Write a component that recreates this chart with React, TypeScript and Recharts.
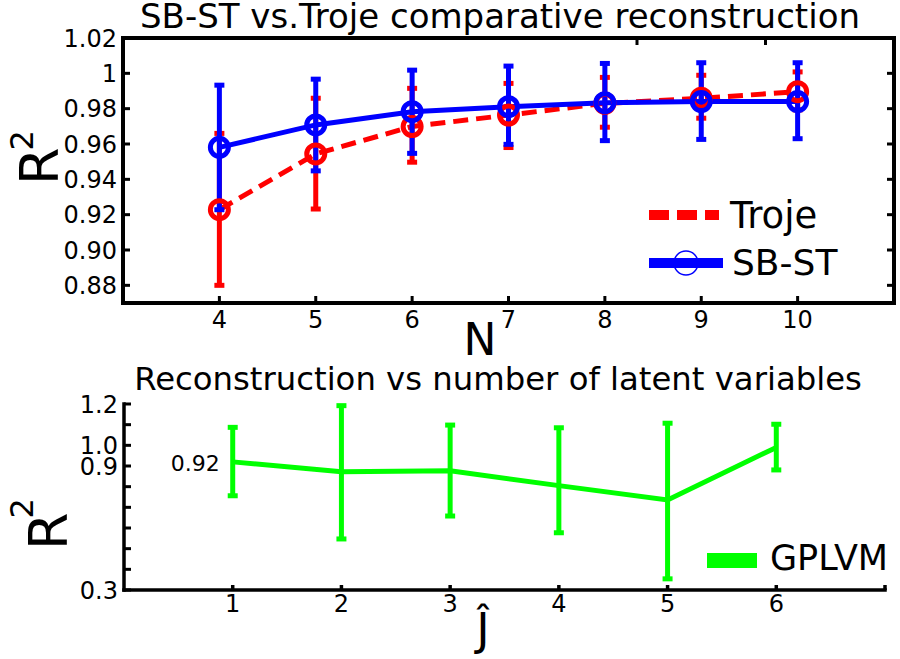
import React from 'react';
import { LineChart, Line, XAxis, YAxis, ErrorBar, Legend, LabelList } from 'recharts';

const FONT = '"DejaVu Sans", sans-serif';

// upper panel: R^2 against N for the two methods
const nValues = [4, 5, 6, 7, 8, 9, 10];
const trojeR2 = [0.9228, 0.9544, 0.9699, 0.9764, 0.983, 0.9859, 0.9896];
const trojeLow = [0.88, 0.9232, 0.9497, 0.958, 0.9695, 0.9746, 0.9793];
const trojeHigh = [0.966, 0.9859, 0.9915, 0.9943, 0.9977, 0.9989, 1.0008];
const sbstR2 = [0.9581, 0.9708, 0.9783, 0.9811, 0.9834, 0.984, 0.984];
const sbstLow = [0.9228, 0.9448, 0.9547, 0.9598, 0.9619, 0.9626, 0.963];
const sbstHigh = [0.9933, 0.9967, 1.0018, 1.0041, 1.0056, 1.006, 1.006];
const topYTicks = [0.88, 0.9, 0.92, 0.94, 0.96, 0.98, 1, 1.02];

// lower panel: GPLVM R^2 against number of latent variables
const jValues = [1, 2, 3, 4, 5, 6];
const gplvmR2 = [0.92, 0.872, 0.877, 0.805, 0.736, 0.99];
const gplvmLow = [0.756, 0.547, 0.658, 0.577, 0.354, 0.881];
const gplvmHigh = [1.087, 1.192, 1.098, 1.085, 1.107, 1.102];
const bottomXTicks = [1, 2, 3, 4, 5, 6, 7];
const bottomYTicks = [0.3, 0.4, 0.5, 0.6, 0.7, 0.8, 0.9, 1.0, 1.1, 1.2];
const bottomYLabels = ['1.2', '1.0', '0.9', '0.3'];

const topData = nValues.map((n, i) => ({
  n,
  troje: trojeR2[i],
  trojeErr: [trojeR2[i] - trojeLow[i], trojeHigh[i] - trojeR2[i]],
  sbst: sbstR2[i],
  sbstErr: [sbstR2[i] - sbstLow[i], sbstHigh[i] - sbstR2[i]],
}));

const bottomData = jValues.map((j, i) => ({
  j,
  gplvm: gplvmR2[i],
  gplvmErr: [gplvmR2[i] - gplvmLow[i], gplvmHigh[i] - gplvmR2[i]],
}));

const RED = '#ff0000';
const BLUE = '#0000ff';
const GREEN = '#00ff00';
const frameLine = { stroke: '#000', strokeWidth: 4, strokeLinecap: 'square' as const };

const fmtTopY = (v: number) => (v === 1 ? '1' : v.toFixed(2));
const fmtBottomY = (v: number) => (bottomYLabels.includes(v.toFixed(1)) ? v.toFixed(1) : '');
const fmtBottomX = (v: number) => (v === 7 ? '' : String(v));

// tick renderers: the label sits outside the axis, the tick mark points into the plot
const leftTick = (gap: number, len: number, fmt: (v: number) => string) => (props: any) => (
  <g>
    <line x1={props.x + gap} y1={props.y} x2={props.x + gap + len} y2={props.y} stroke="#000" strokeWidth={3} />
    <text x={props.x} y={props.y} dy="0.355em" textAnchor="end" fontSize={24} fontFamily={FONT} fill="#000">
      {fmt(props.payload.value)}
    </text>
  </g>
);

const bottomTick = (gap: number, len: number, width: number, fmt: (v: number) => string) => (props: any) => (
  <g>
    <line x1={props.x} y1={props.y - gap} x2={props.x} y2={props.y - gap - len} stroke="#000" strokeWidth={width} />
    <text x={props.x} y={props.y} dy="0.71em" textAnchor="middle" fontSize={24} fontFamily={FONT} fill="#000">
      {fmt(props.payload.value)}
    </text>
  </g>
);

const topFrameTick = (props: any) => (
  <line x1={props.x} y1={props.y} x2={props.x} y2={props.y + 7} stroke="#000" strokeWidth={3} />
);

const rightFrameTick = (props: any) => (
  <line x1={props.x} y1={props.y} x2={props.x - 7} y2={props.y} stroke="#000" strokeWidth={3} />
);

const TopLegend = () => (
  <svg width={250} height={100} style={{ display: 'block', overflow: 'visible' }}>
    <line x1={9} y1={25} x2={79} y2={25} stroke={RED} strokeWidth={10} strokeDasharray="20 8" />
    <text x={90} y={38} fontSize={37} fontFamily={FONT} fill="#000">Troje</text>
    <line x1={9} y1={73} x2={83} y2={73} stroke={BLUE} strokeWidth={10} />
    <circle cx={46} cy={73} r={12} fill="none" stroke={BLUE} strokeWidth={1.5} />
    <text x={92} y={85} fontSize={36} fontFamily={FONT} fill="#000">SB-ST</text>
  </svg>
);

const BottomLegend = () => (
  <svg width={205} height={45} style={{ display: 'block', overflow: 'visible' }}>
    <rect x={17} y={13} width={50} height={15} fill={GREEN} />
    <text x={80} y={30} fontSize={35} fontFamily={FONT} fill="#000">GPLVM</text>
  </svg>
);

const rSquared = (x: number, y: number, supShift: number, supDx: number) => () => (
  <text transform={`translate(${x},${y}) rotate(-90)`} fontSize={54} fontFamily={FONT} fill="#000">
    R
    <tspan fontSize={32} dy={supShift} dx={supDx}>2</tspan>
  </text>
);

const firstValueLabel = (props: any) => {
  if (props.index !== 0) return null;
  return (
    <text x={props.x - 13} y={props.y + 9} textAnchor="end" fontSize={22} fontFamily={FONT} fill="#000">
      {props.value}
    </text>
  );
};

export default function App() {
  return (
    <div style={{ position: 'absolute', left: 0, top: 0, width: 900, height: 659, background: '#fff' }}>
      <div style={{ position: 'absolute', left: 0, top: 340 }}>
        <LineChart width={900} height={319} data={bottomData} margin={{ top: 64, right: 15, bottom: 0, left: 0 }}>
          <XAxis
            dataKey="j"
            type="number"
            domain={[0, 7]}
            ticks={bottomXTicks}
            interval={0}
            height={69}
            allowDataOverflow
            axisLine={{ stroke: '#000', strokeWidth: 3.5, strokeLinecap: 'square' }}
            tickLine={false}
            tickSize={0}
            tickMargin={5}
            tick={bottomTick(5, 5, 3.5, fmtBottomX)}
            label={{
              content: () => (
                <text x={483} y={305} textAnchor="middle" fontSize={44} fontFamily={FONT} fill="#000">Ĵ</text>
              ),
            }}
          />
          <YAxis
            type="number"
            domain={[0.3, 1.2]}
            ticks={bottomYTicks}
            interval={0}
            width={124}
            allowDataOverflow
            axisLine={{ stroke: '#000', strokeWidth: 3.5, strokeLinecap: 'square' }}
            tickLine={false}
            tickSize={0}
            tickMargin={6}
            tick={leftTick(6, 7, fmtBottomY)}
            label={{ content: rSquared(67, 210, -34, -6) }}
          />
          <Line dataKey="gplvm" stroke={GREEN} strokeWidth={5} dot={false} isAnimationActive={false}>
            <ErrorBar dataKey="gplvmErr" width={5} strokeWidth={5} stroke={GREEN} direction="y" />
            <LabelList dataKey="gplvm" content={firstValueLabel} />
          </Line>
          <Legend layout="vertical" align="center" verticalAlign="middle" content={BottomLegend}
            wrapperStyle={{ left: 690, top: 200, width: 205, height: 45 }} />
        </LineChart>
      </div>

      <div style={{ position: 'absolute', left: 0, top: 0 }}>
        <LineChart width={900} height={365} data={topData} margin={{ top: 38, right: 6, bottom: 0, left: 0 }}>
          <XAxis
            dataKey="n"
            type="number"
            domain={[3, 11]}
            ticks={nValues}
            interval={0}
            height={62}
            allowDataOverflow
            axisLine={frameLine}
            tickLine={false}
            tickSize={0}
            tickMargin={8}
            tick={bottomTick(8, 7, 3, String)}
            label={{
              content: () => (
                <text x={480} y={355} textAnchor="middle" fontSize={44} fontFamily={FONT} fill="#000">N</text>
              ),
            }}
          />
          <XAxis xAxisId="top" orientation="top" type="number" domain={[3, 11]} ticks={nValues} interval={0} allowDataOverflow mirror
            axisLine={frameLine} tickLine={false} tickSize={0} tickMargin={0} tick={topFrameTick} />
          <YAxis
            type="number"
            domain={[0.87, 1.02]}
            ticks={topYTicks}
            interval={0}
            width={123}
            allowDataOverflow
            axisLine={frameLine}
            tickLine={false}
            tickSize={0}
            tickMargin={6}
            tick={leftTick(6, 7, fmtTopY)}
            label={{ content: rSquared(58, 185, -25, -3) }}
          />
          <YAxis yAxisId="right" orientation="right" type="number" domain={[0.87, 1.02]} ticks={topYTicks} interval={0} allowDataOverflow mirror
            axisLine={frameLine} tickLine={false} tickSize={0} tickMargin={0} tick={rightFrameTick} />
          {/* invisible copy of the series so the top/right frame axes get a scale of their own */}
          <Line dataKey="sbst" xAxisId="top" yAxisId="right" stroke="none" dot={false} activeDot={false}
            legendType="none" isAnimationActive={false} />
          <Line
            dataKey="troje"
            stroke={RED}
            strokeWidth={5}
            strokeDasharray="15 8"
            dot={{ r: 9, strokeWidth: 5, fill: 'none', stroke: RED, strokeDasharray: '' }}
            isAnimationActive={false}
          >
            <ErrorBar dataKey="trojeErr" width={5} strokeWidth={5} stroke={RED} direction="y" />
          </Line>
          <Line
            dataKey="sbst"
            stroke={BLUE}
            strokeWidth={5}
            dot={{ r: 9, strokeWidth: 5, fill: 'none', stroke: BLUE }}
            isAnimationActive={false}
          >
            <ErrorBar dataKey="sbstErr" width={5} strokeWidth={5} stroke={BLUE} direction="y" />
          </Line>
          <Legend layout="vertical" align="center" verticalAlign="middle" content={TopLegend}
            wrapperStyle={{ left: 640, top: 190, width: 250, height: 100 }} />
        </LineChart>
      </div>

      <svg width={900} height={659} style={{ position: 'absolute', left: 0, top: 0, pointerEvents: 'none' }}>
        <text x={500} y={28} textAnchor="middle" fontSize={34} fontFamily={FONT} fill="#000">
          SB-ST vs.Troje comparative reconstruction
        </text>
        <text x={498} y={390} textAnchor="middle" fontSize={32.3} fontFamily={FONT} fill="#000">
          Reconstruction vs number of latent variables
        </text>
      </svg>
    </div>
  );
}
